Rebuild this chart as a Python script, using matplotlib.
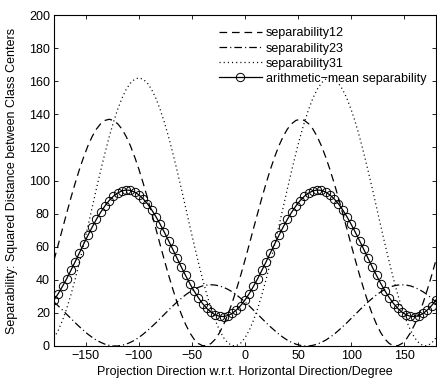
import numpy as np
import matplotlib
matplotlib.use("Agg")
import matplotlib.pyplot as plt

plt.rcParams['font.family'] = ['Liberation Sans', 'DejaVu Sans']
plt.rcParams['lines.scale_dashes'] = False

# projection direction, degrees, every 4 deg
angle = np.arange(-180, 181, 4)

sep12 = [51.9, 61.3, 70.9, 80.4, 89.7, 98.5, 106.8, 114.3, 121.0, 126.6, 131.1, 134.3, 136.3,
         137.0, 136.3, 134.3, 131.1, 126.6, 121.0, 114.3, 106.8, 98.5, 89.7, 80.4, 70.9, 61.3,
         51.9, 42.8, 34.3, 26.3, 19.2, 13.1, 8.0, 4.1, 1.5, 0.2, 0.2, 1.5, 4.1, 8.0, 13.1,
         19.2, 26.3, 34.3, 42.8,
         51.9, 61.3, 70.9, 80.4, 89.7, 98.5, 106.8, 114.3, 121.0, 126.6, 131.1, 134.3, 136.3,
         137.0, 136.3, 134.3, 131.1, 126.6, 121.0, 114.3, 106.8, 98.5, 89.7, 80.4, 70.9, 61.3,
         51.9, 42.8, 34.3, 26.3, 19.2, 13.1, 8.0, 4.1, 1.5, 0.2, 0.2, 1.5, 4.1, 8.0, 13.1,
         19.2, 26.3, 34.3, 42.8,
         51.9]

sep23 = [26.6, 24.2, 21.7, 19.1, 16.6, 14.0, 11.6, 9.3, 7.1, 5.2, 3.5, 2.2, 1.1, 0.4, 0.0,
         0.0, 0.4, 1.1, 2.2, 3.5, 5.2, 7.1, 9.3, 11.6, 14.0, 16.6, 19.1, 21.7, 24.2, 26.6,
         28.8, 30.9, 32.7, 34.2, 35.4, 36.3, 36.8, 37.0, 36.8, 36.3, 35.4, 34.2, 32.7, 30.9, 28.8,
         26.6, 24.2, 21.7, 19.1, 16.6, 14.0, 11.6, 9.3, 7.1, 5.2, 3.5, 2.2, 1.1, 0.4, 0.0,
         0.0, 0.4, 1.1, 2.2, 3.5, 5.2, 7.1, 9.3, 11.6, 14.0, 16.6, 19.1, 21.7, 24.2, 26.6,
         28.8, 30.9, 32.7, 34.2, 35.4, 36.3, 36.8, 37.0, 36.8, 36.3, 35.4, 34.2, 32.7, 30.9, 28.8,
         26.6]

sep31 = [4.9, 9.5, 15.5, 22.7, 31.1, 40.5, 50.7, 61.4, 72.5, 83.8, 95.1, 106.0, 116.5, 126.3,
         135.2, 143.0, 149.7, 155.0, 158.9, 161.2, 162.0, 161.2, 158.9, 155.0, 149.7, 143.0,
         135.2, 126.3, 116.5, 106.0, 95.1, 83.8, 72.5, 61.4, 50.7, 40.5, 31.1, 22.7, 15.5, 9.5,
         4.9, 1.8, 0.2, 0.2, 1.8,
         4.9, 9.5, 15.5, 22.7, 31.1, 40.5, 50.7, 61.4, 72.5, 83.8, 95.1, 106.0, 116.5, 126.3,
         135.2, 143.0, 149.7, 155.0, 158.9, 161.2, 162.0, 161.2, 158.9, 155.0, 149.7, 143.0,
         135.2, 126.3, 116.5, 106.0, 95.1, 83.8, 72.5, 61.4, 50.7, 40.5, 31.1, 22.7, 15.5, 9.5,
         4.9, 1.8, 0.2, 0.2, 1.8,
         4.9]

# arithmetic mean of the three pairwise separabilities
sep_mean = (np.array(sep12) + np.array(sep23) + np.array(sep31)) / 3

fig = plt.figure(figsize=(4.37, 3.8), dpi=100)
ax = fig.add_axes([0.1236, 0.0895, 0.874, 0.871])

ax.plot(angle, sep12, color='k', lw=0.9, ls=(0, (5.5, 3.5)), label='separability12')
ax.plot(angle, sep23, color='k', lw=0.9, ls=(0, (5.5, 2.2, 0.8, 2.2)), label='separability23')
ax.plot(angle, sep31, color='k', lw=0.9, ls=(0, (0.8, 2.2)), label='separability31')
ax.plot(angle, sep_mean, color='k', lw=0.9, marker='o', ms=6, mfc='none', mew=0.7,
        label='arithmetic\u2212mean separability')

ax.set_xlim(-180, 180)
ax.set_ylim(0, 200)
ax.set_xticks([-150, -100, -50, 0, 50, 100, 150])
ax.set_yticks(np.arange(0, 201, 20))
ax.tick_params(direction='in', length=3, width=0.6, top=True, right=True, labelsize=9, pad=3)
for s in ax.spines.values():
    s.set_linewidth(0.8)

ax.set_xlabel('Projection Direction w.r.t. Horizontal Direction/Degree', fontsize=9, labelpad=3)
ax.set_ylabel('Separability: Squared Distance between Class Centers', fontsize=9, labelpad=8)

ax.legend(loc='upper right', frameon=False, fontsize=9, handlelength=3.4, handletextpad=0.35,
          labelspacing=0.25, borderaxespad=0.2, bbox_to_anchor=(0.995, 0.985))

fig.savefig('out.png', dpi=100)
